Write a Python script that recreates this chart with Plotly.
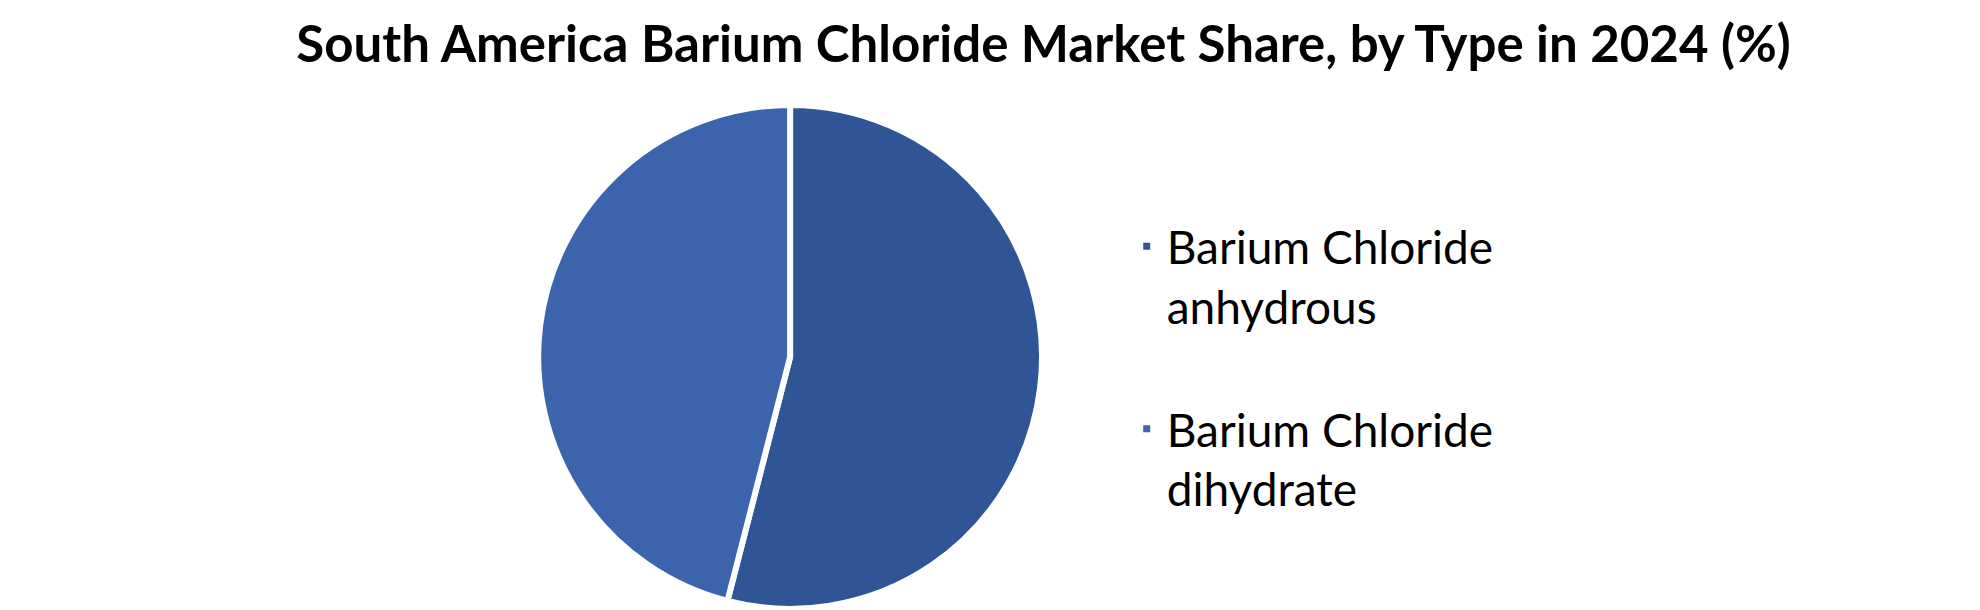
import plotly.graph_objects as go

# market share by type, 2024 (%)
types = ['Barium Chloride<br>anhydrous<br>\u00a0', 'Barium Chloride<br>dihydrate<br>\u00a0']
shares = [54.0, 46.0]
colors = ['#2F5596', '#3C64AC']

title_text = 'South America Barium Chloride Market Share, by Type in 2024 (%)'

fig = go.Figure(go.Pie(labels=types, values=shares,
                       sort=False, direction='clockwise', rotation=0,
                       marker=dict(colors=colors, line=dict(color='white', width=6)),
                       textinfo='none', hoverinfo='label+percent',
                       domain=dict(x=[0.195, 0.595], y=[0.015, 0.841])))

fig.update_layout(width=1980, height=610,
                  margin=dict(l=0, r=0, t=0, b=0),
                  paper_bgcolor='white', plot_bgcolor='white',
                  title=dict(text='<b>' + title_text + '</b>', x=0.523, xanchor='center',
                             y=0.94, yanchor='middle', yref='container',
                             font=dict(family='Lato', size=51, color='black')),
                  legend=dict(x=0.565, y=0.669, xanchor='left', yanchor='top',
                              valign='top', tracegroupgap=0, itemclick=False,
                              font=dict(family='Lato', size=46, color='black')),
                  showlegend=True)

fig.write_html("out.html")
